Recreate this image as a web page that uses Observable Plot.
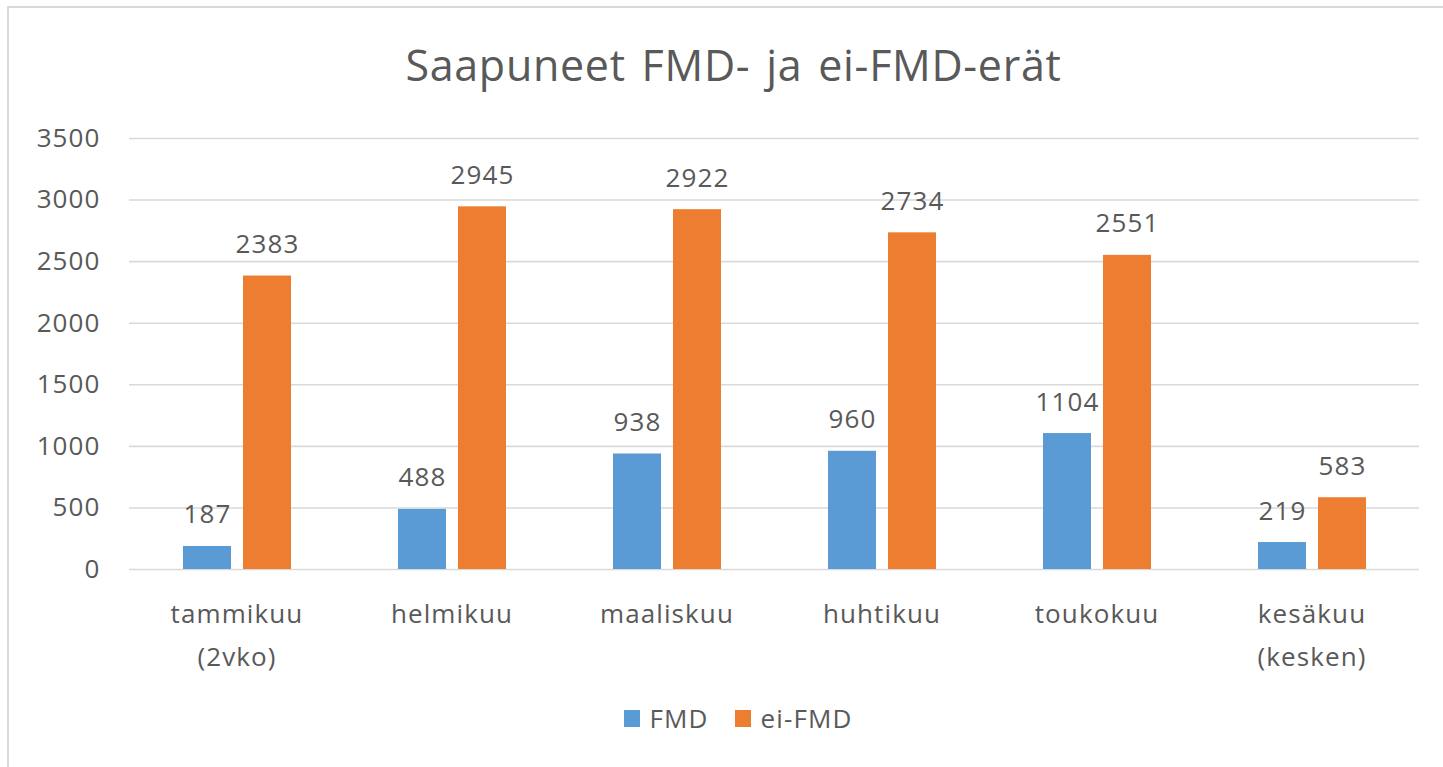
<!DOCTYPE html>
<html>
<head>
<meta charset="utf-8">
<script src="https://cdn.jsdelivr.net/npm/d3@7"></script>
<script src="https://cdn.jsdelivr.net/npm/@observablehq/plot@0.6"></script>
<style>
  html, body { margin: 0; padding: 0; background: #fff; width: 1443px; height: 767px; overflow: hidden; position: relative; }
  #frame { position: absolute; left: 7px; top: 6px; width: 1460px; height: 800px; border: 2.5px solid #d9d9d9; box-sizing: border-box; }
  #title { position: absolute; left: 8px; top: 40px; width: 1451px; text-align: center; font-family: "Open Sans", sans-serif; font-size: 43px; line-height: 50px; letter-spacing: 0.7px; word-spacing: 4px; color: #595959; }
  #chart { position: absolute; left: 0; top: 100px; }
  #chart svg text { letter-spacing: 1.1px; }
  #legend { position: absolute; left: 0; top: 700px; width: 1476px; height: 36px; display: flex; justify-content: center; align-items: center; font-family: "Open Sans", sans-serif; font-size: 26px; letter-spacing: 1.1px; color: #595959; }
  .item { display: flex; align-items: center; margin: 0 13px; }
  .sw { width: 16px; height: 17px; margin-right: 10px; }
</style>
</head>
<body>
<div id="frame"></div>
<div id="title">Saapuneet FMD- ja ei-FMD-erät</div>
<div id="chart"></div>
<div id="legend"></div>
<script>
const months = ["tammikuu\n(2vko)", "helmikuu", "maaliskuu", "huhtikuu", "toukokuu", "kesäkuu\n(kesken)"];
const series = ["FMD", "ei-FMD"];
const fmdValues = [187, 488, 938, 960, 1104, 219];
const eiFmdValues = [2383, 2945, 2922, 2734, 2551, 583];
const seriesColors = ["#5B9BD5", "#ED7D31"];
const yTicks = [0, 500, 1000, 1500, 2000, 2500, 3000, 3500];

const data = [];
months.forEach((m, i) => {
  data.push({month: m, series: series[0], value: fmdValues[i]});
  data.push({month: m, series: series[1], value: eiFmdValues[i]});
});

const chart = Plot.plot({
  width: 1443,
  height: 580,
  marginLeft: 128,
  marginRight: 23,
  marginTop: 38,
  marginBottom: 111,
  style: {fontFamily: "'Open Sans', sans-serif", fontSize: "26px", color: "#595959", background: "transparent", overflow: "visible"},
  fx: {domain: months, padding: 0, label: null},
  x: {domain: series, paddingInner: 0.2, paddingOuter: 0.87, axis: null},
  y: {domain: [0, 3500], label: null},
  color: {domain: series, range: seriesColors},
  marks: [
    Plot.ruleY(yTicks, {stroke: "#d9d9d9", strokeWidth: 1.6}),
    Plot.barY(data, {fx: "month", x: "series", y: "value", fill: "series"}),
    Plot.text(data, {fx: "month", x: "series", y: "value", text: d => String(d.value), lineAnchor: "bottom", dy: -23, fill: "#595959", fontSize: 26}),
    Plot.axisY({ticks: yTicks, tickFormat: d => String(d), tickSize: 0, tickPadding: 29, label: null, fontSize: 26}),
    Plot.axisFx({anchor: "bottom", tickSize: 0, tickPadding: 24, lineHeight: 1.62, label: null, fontSize: 26})
  ]
});
document.getElementById("chart").appendChild(chart);

const legend = document.getElementById("legend");
series.forEach((s, i) => {
  const item = document.createElement("div");
  item.className = "item";
  const sw = document.createElement("div");
  sw.className = "sw";
  sw.style.background = seriesColors[i];
  const label = document.createElement("span");
  label.textContent = s;
  item.appendChild(sw);
  item.appendChild(label);
  legend.appendChild(item);
});
</script>
</body>
</html>
